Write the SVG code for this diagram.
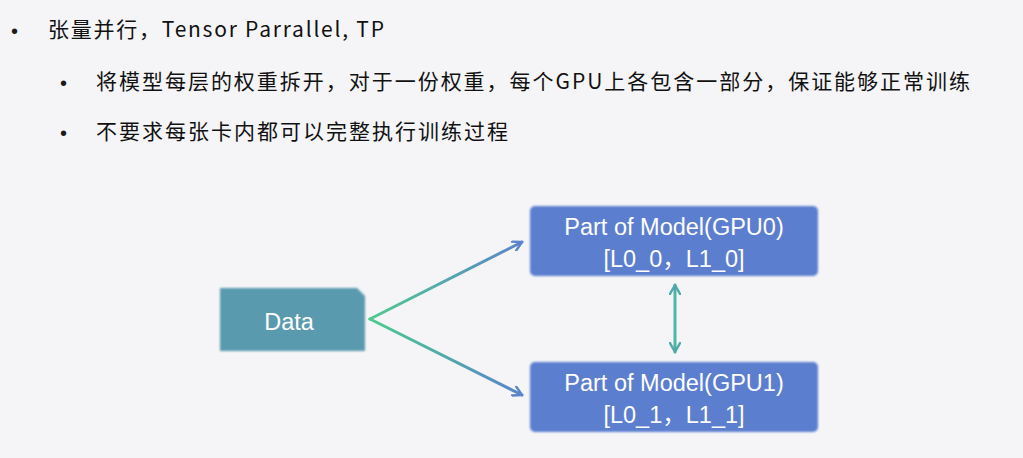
<svg xmlns="http://www.w3.org/2000/svg" width="1023" height="458" viewBox="0 0 1023 458">
<style>
.t{font-family:"Noto Sans CJK SC","Microsoft YaHei",sans-serif;font-size:21px;fill:#111111}
.b{font-family:"Liberation Sans",Arial,sans-serif;font-size:20px;fill:#1a1a1a}
.w{font-family:"Liberation Sans",Arial,"Noto Sans CJK SC",sans-serif;font-size:23.5px;fill:#ffffff;text-anchor:middle}
.gpu{fill:#5b7ecf}
</style>
<defs>
<linearGradient id="g1" gradientUnits="userSpaceOnUse" x1="370" y1="319" x2="523" y2="242">
<stop offset="0" stop-color="#4dcb8e"/><stop offset="1" stop-color="#5a84cc"/>
</linearGradient>
<linearGradient id="g2" gradientUnits="userSpaceOnUse" x1="370" y1="319" x2="523" y2="395">
<stop offset="0" stop-color="#4dcb8e"/><stop offset="1" stop-color="#5a84cc"/>
</linearGradient>
<linearGradient id="g3" gradientUnits="userSpaceOnUse" x1="0" y1="283" x2="0" y2="354">
<stop offset="0" stop-color="#5a8acb"/><stop offset="0.15" stop-color="#4db8a6"/><stop offset="0.85" stop-color="#4db8a6"/><stop offset="1" stop-color="#4aa89c"/>
</linearGradient>
<marker id="ah" viewBox="0 0 12 12" refX="10" refY="6" markerWidth="12" markerHeight="12" markerUnits="userSpaceOnUse" orient="auto-start-reverse">
<path d="M1,1 L10,6 L1,11" fill="none" stroke="#5a84cc" stroke-width="2.4" stroke-linecap="round" stroke-linejoin="round"/>
</marker>
<marker id="av" viewBox="0 0 12 12" refX="10" refY="6" markerWidth="12" markerHeight="12" markerUnits="userSpaceOnUse" orient="auto-start-reverse">
<path d="M1,1 L10,6 L1,11" fill="none" stroke="#4fa9a6" stroke-width="2.4" stroke-linecap="round" stroke-linejoin="round"/>
</marker>
<filter id="soft" x="-5%" y="-5%" width="110%" height="110%"><feGaussianBlur stdDeviation="0.8"/></filter>
</defs>
<rect width="1023" height="458" fill="#f5f5f8"/>

<g id="text">
<text class="b" x="11" y="38">•</text>
<text class="t" x="48" y="37" textLength="336" lengthAdjust="spacing">张量并行，Tensor Parrallel, TP</text>
<text class="b" x="60" y="90">•</text>
<text class="t" x="96" y="89" textLength="874" lengthAdjust="spacing">将模型每层的权重拆开，对于一份权重，每个GPU上各包含一部分，保证能够正常训练</text>
<text class="b" x="60" y="140">•</text>
<text class="t" x="96" y="139" textLength="412" lengthAdjust="spacing">不要求每张卡内都可以完整执行训练过程</text>
</g>

<g id="connectors" fill="none" stroke-width="3" stroke-linecap="round">
<line x1="370" y1="319" x2="522" y2="242" stroke="url(#g1)" marker-end="url(#ah)"/>
<line x1="370" y1="319" x2="522" y2="395" stroke="url(#g2)" marker-end="url(#ah)"/>
<line x1="675" y1="285" x2="675" y2="352" stroke="url(#g3)" marker-start="url(#av)" marker-end="url(#av)"/>
</g>

<g id="data">
<path d="M220,288 H357 L365,296 V351 H220 Z" fill="#5a9aae" filter="url(#soft)"/>
<text class="w" x="289" y="330">Data</text>
</g>

<g id="gpu0">
<rect class="gpu" x="530" y="206" width="288" height="70" rx="5" filter="url(#soft)"/>
<text class="w" x="674" y="235">Part of Model(GPU0)</text>
<text class="w" x="674" y="267">[L0_0，L1_0]</text>
</g>

<g id="gpu1">
<rect class="gpu" x="530" y="362" width="288" height="70" rx="5" filter="url(#soft)"/>
<text class="w" x="674" y="391">Part of Model(GPU1)</text>
<text class="w" x="674" y="423">[L0_1，L1_1]</text>
</g>
</svg>
